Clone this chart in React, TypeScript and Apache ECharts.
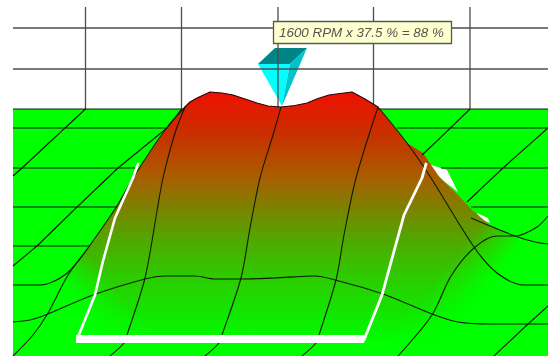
import React, { useEffect, useRef } from "react";
import * as echarts from "echarts";

type P = [number, number];

// Traced values of the map view (hidden axes run over the picture's extent)
const xExtent: P = [0, 548];
const yExtent: P = [0, 356];
const tooltipText = "1600 RPM x 37.5 % = 88 %";

const floorArea: P[] = [[13, 109], [548, 109], [548, 356], [13, 356]];
const wallColumns = [85.5, 181.5, 278, 373.5, 470];
const wallRows = [28, 69];
const wallTop = 7;
const wallBottom = 109;

const floorRows: P[][] = [
  [[13, 109], [185, 109]],
  [[378, 109], [548, 109]],
  [[13, 128], [167, 128]],
  [[397, 128], [548, 128]],
  [[13, 168], [135, 168]],
  [[441, 168], [548, 168]],
  [[13, 207], [117, 207]],
  [[471, 207], [548, 207]],
  [[13, 246], [90, 246]],
];
const floorColumns: P[][] = [
  [[85.5, 109], [65, 128], [22, 168], [13, 176]],
  [[181.5, 109], [167, 128], [118, 168], [77, 207], [37, 246], [13, 266]],
  [[470, 109], [438, 140], [422, 155]],
  [[548, 128], [503, 168], [467, 202]],
  [[548, 306], [527, 325], [494, 356]],
];

const ridgeTop: P[] = [[185, 107], [190, 102], [197, 98], [210, 92], [222, 93], [233, 95], [245, 99], [257, 103], [268, 106], [281, 107], [295, 105.5], [307, 103], [318, 98.5], [329, 95], [340, 93.5], [352, 92], [365, 99], [378, 107]];
const rightSlope: P[] = [[407, 143], [423, 153], [440, 178], [458, 195], [472, 210], [490, 225], [516, 236], [545, 300], [480, 345]];
const leftFoot: P[] = [[60, 345], [20, 300], [48, 313], [68, 275], [88, 248], [117, 206], [133, 178], [165, 130]];

const meshLeftEdge: P[] = [[13, 356], [33, 335], [48, 313], [68, 275], [88, 248], [117, 206], [133, 178], [165, 130], [185, 107]];
const meshColumn2: P[] = [[185, 107], [175, 133], [163, 178], [157, 211], [145, 278], [127, 335], [124, 343], [110, 356]];
const meshColumn3: P[] = [[281, 107], [273, 135], [260, 178], [250, 228], [241, 278], [222, 335], [219, 343], [205, 356]];
const meshColumn4: P[] = [[378, 107], [356, 178], [344, 235], [336, 280], [319, 335], [316, 343], [302, 356]];
const meshRightEdge: P[] = [[378, 107], [407, 143], [431, 178], [474, 247], [497, 273], [524, 285], [548, 285]];
const meshRightColumn: P[] = [[398, 356], [432, 315], [451, 276], [474, 248], [497, 236], [516, 236], [537, 227], [548, 216]];
const meshRightRow: P[] = [[471, 218], [515, 236], [535, 242], [548, 244]];
const meshLeftRow: P[] = [[13, 285], [41, 285], [66, 274], [88, 248]];
const meshFrontRow: P[] = [[13, 322], [30, 320], [48, 314], [93, 295], [145, 279], [165, 276], [195, 276], [215, 279], [240, 279], [274, 278], [315, 276], [335, 280], [383, 294], [432, 314], [458, 322], [490, 324], [548, 324]];

const frameBottom: P[] = [[76, 339], [364, 339]];
const frameLeft: P[] = [[78, 337], [95, 295], [103, 261], [115, 218], [133, 178], [138, 164]];
const frameRight: P[] = [[364, 340], [382, 295], [404, 215], [422, 178], [426, 164]];
const frameBackA: P[] = [[425, 163], [447, 170], [458, 192], [445, 182]];
const frameBackB: P[] = [[477, 213], [488, 218], [490, 223], [480, 219]];

const fadeRight: P[] = [[380, 200], [548, 200], [548, 345], [380, 345]];
const fadeLeft: P[] = [[13, 240], [145, 240], [145, 345], [13, 345]];

const coneTop: P[] = [[258, 64], [275, 48], [307, 48], [290, 64]];
const coneFront: P[] = [[258, 64], [290, 64], [282, 106]];
const coneSide: P[] = [[290, 64], [307, 48], [282, 106]];

const heightGradient = new echarts.graphic.LinearGradient(0, 92, 0, 343, [
  { offset: 0, color: "#f01000" },
  { offset: 0.17, color: "#c83000" },
  { offset: 0.34, color: "#a85e00" },
  { offset: 0.47, color: "#7a8400" },
  { offset: 0.59, color: "#50a800" },
  { offset: 0.74, color: "#2ccc00" },
  { offset: 0.87, color: "#14e400" },
  { offset: 1, color: "#00ff00" },
], true);
const fadeRightFill = new echarts.graphic.LinearGradient(400, 325, 433.5, 352, [
  { offset: 0, color: "rgba(0,255,0,0)" },
  { offset: 1, color: "rgba(0,255,0,1)" },
], true);
const fadeLeftFill = new echarts.graphic.LinearGradient(100, 269, 69.5, 293.4, [
  { offset: 0, color: "rgba(0,255,0,0)" },
  { offset: 1, color: "rgba(0,255,0,1)" },
], true);

const mountainOutline: P[] = [...ridgeTop, ...rightSlope, ...leftFoot];

function area(points: P[], fill: any) {
  return {
    type: "custom",
    coordinateSystem: "cartesian2d",
    silent: true,
    data: points,
    clip: false,
    renderItem: (params: any, api: any) => {
      if (params.dataIndex !== 0) return null as any;
      return {
        type: "polygon",
        shape: { points: points.map((p) => api.coord(p)) },
        style: { fill, stroke: "none" },
      };
    },
  };
}

function line(points: P[], color: string, width: number, smooth: number | boolean = false, cap = "round") {
  return {
    type: "line",
    data: points,
    silent: true,
    showSymbol: false,
    symbol: "none",
    smooth,
    clip: false,
    lineStyle: { color, width, cap, join: "round" },
  };
}

const wallColor = "#4c4c4c";
const meshColor = "#0e1a08";

export default function App() {
  const ref = useRef<HTMLDivElement>(null);
  useEffect(() => {
    const chart = echarts.init(ref.current!, undefined, { renderer: "svg" });
    const wall: P[][] = [
      ...wallColumns.map((x): P[] => [[x, wallTop], [x, wallBottom]]),
      ...wallRows.map((y): P[] => [[13, y], [548, y]]),
    ];
    chart.setOption({
      animation: false,
      backgroundColor: "#ffffff",
      grid: { left: 0, right: 0, top: 0, bottom: 0 },
      xAxis: { type: "value", min: xExtent[0], max: xExtent[1], show: false },
      yAxis: { type: "value", min: yExtent[0], max: yExtent[1], inverse: true, show: false },
      series: [
        ...wall.map((l) => line(l, wallColor, 1.3, false, "butt")),
        area(floorArea, "#00ff00"),
        ...floorRows.map((l) => line(l, meshColor, 1.2, false, "butt")),
        ...floorColumns.map((l) => line(l, meshColor, 1.1, false, "butt")),
        area(frameBackA, "#ffffff"),
        area(frameBackB, "#ffffff"),
        area(mountainOutline, heightGradient),
        area(fadeRight, fadeRightFill),
        area(fadeLeft, fadeLeftFill),
        ...[meshLeftEdge, meshColumn2, meshColumn3, meshColumn4, meshRightEdge, meshRightColumn, meshRightRow, meshLeftRow, meshFrontRow].map((l) => line(l, meshColor, 1.1, 0.3, "butt")),
        line(ridgeTop, "#2a0500", 1.2),
        line(frameBottom, "#ffffff", 8, false, "butt"),
        line(frameLeft, "#ffffff", 2.6),
        line(frameRight, "#ffffff", 2.8),
        area(coneTop, "#008488"),
        area(coneFront, "#00ffff"),
        area(coneSide, "#00c4cc"),
      ],
      graphic: [
        {
          type: "rect",
          silent: true,
          z: 100,
          shape: { x: 273.5, y: 21.5, width: 178, height: 22 },
          style: { fill: "#ffffcf", stroke: "#5a5a4a", lineWidth: 1.3 },
        },
        {
          type: "text",
          silent: true,
          z: 101,
          x: 279,
          y: 32.5,
          style: {
            text: tooltipText,
            fill: "#55554f",
            font: "italic 13.4px 'Liberation Sans', Arial, sans-serif",
            textVerticalAlign: "middle",
            verticalAlign: "middle",
          },
        },
      ],
    });
    return () => chart.dispose();
  }, []);
  return (
    <div
      ref={ref}
      style={{ position: "absolute", left: 0, top: 0, width: 548, height: 356, filter: "blur(0.4px)" }}
    />
  );
}
